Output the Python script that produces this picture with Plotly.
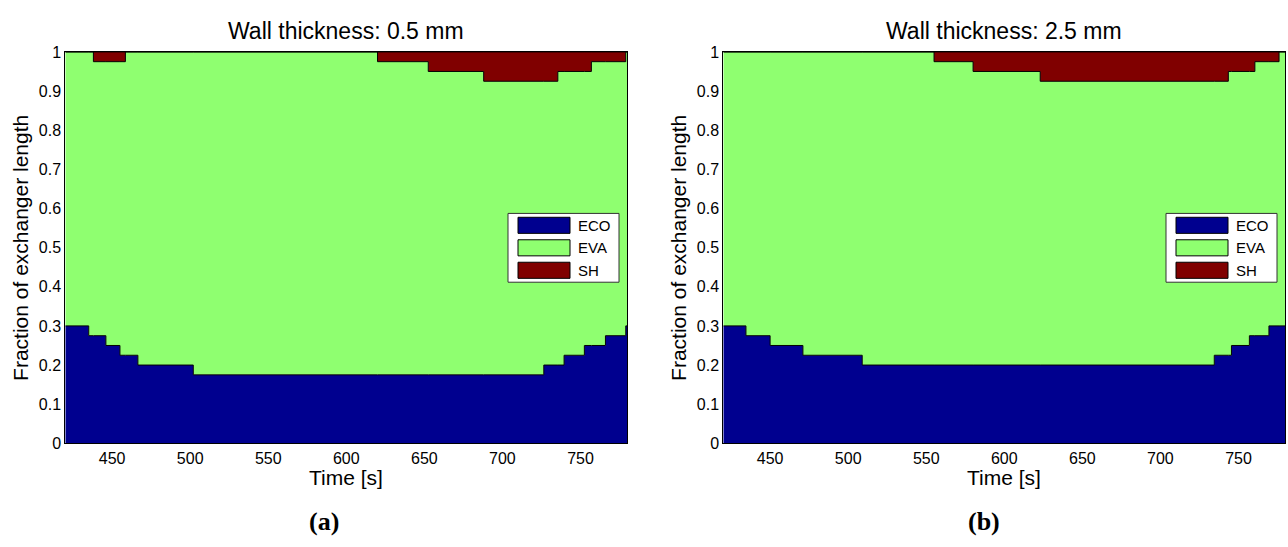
import plotly.graph_objects as go

# ---------------- data ----------------
# Panel (a): wall thickness 0.5 mm  -- step-wise zone fractions
TIME_A = [420, 435, 438, 446, 455, 458.5, 466.5, 502, 620, 652.5, 688,
          726.5, 735.5, 739.5, 752.5, 757, 766, 779, 780]
ECO_A = [0.300, 0.275, 0.275, 0.250, 0.225, 0.225, 0.200, 0.175, 0.175, 0.175, 0.175,
         0.200, 0.200, 0.225, 0.250, 0.250, 0.275, 0.300, 0.300]
SH_A = [0.000, 0.000, 0.025, 0.025, 0.025, 0.000, 0.000, 0.000, 0.025, 0.050, 0.075,
        0.075, 0.050, 0.050, 0.050, 0.025, 0.025, 0.000, 0.000]

# Panel (b): wall thickness 2.5 mm
TIME_B = [420, 434.5, 450, 471, 509, 555, 580, 623, 734.5, 743.5, 745.5,
          757, 760.5, 769.5, 776, 780]
ECO_B = [0.300, 0.275, 0.250, 0.225, 0.200, 0.200, 0.200, 0.200, 0.225, 0.225, 0.250,
         0.275, 0.275, 0.300, 0.300, 0.300]
SH_B = [0.000, 0.000, 0.000, 0.000, 0.000, 0.025, 0.050, 0.075, 0.075, 0.050, 0.050,
        0.050, 0.025, 0.025, 0.000, 0.000]

TITLES = ["Wall thickness: 0.5 mm", "Wall thickness: 2.5 mm"]
PANEL_LABELS = ["(a)", "(b)"]
ZONES = ["ECO", "EVA", "SH"]
X_TICKS = [450, 500, 550, 600, 650, 700, 750]
Y_TICKS = [0, 0.1, 0.2, 0.3, 0.4, 0.5, 0.6, 0.7, 0.8, 0.9, 1]
Y_TICK_LABELS = ["0", "0.1", "0.2", "0.3", "0.4", "0.5", "0.6", "0.7", "0.8", "0.9", "1"]
X_LABEL = "Time [s]"
Y_LABEL = "Fraction of exchanger length"

# ---------------- style ----------------
W, H = 1288, 547
COLORS = {"ECO": "#00008F", "EVA": "#8FFF70", "SH": "#800000"}
FONT = "Liberation Sans, Arial, sans-serif"
SERIF = "Liberation Serif, Times New Roman, serif"

# axes boxes in pixels: (left, right)
PANELS_PX = [(65.3, 627.3), (723.3, 1285.3)]
TOP_PX, BOT_PX = 45.3, 449.3
CAPTION_X = [324, 984]


def px(x):
    return x / W


def py(y):
    return 1 - y / H


fig = go.Figure()

panels = [(TIME_A, ECO_A, SH_A), (TIME_B, ECO_B, SH_B)]
for i, (t, eco, sh) in enumerate(panels):
    eva = [round(1 - e - s, 6) for e, s in zip(eco, sh)]
    xa = "x" if i == 0 else "x2"
    ya = "y" if i == 0 else "y2"
    for name, vals in zip(ZONES, [eco, eva, sh]):
        fig.add_trace(go.Scatter(
            x=t, y=vals, name=name, mode="lines",
            stackgroup=f"stack{i}",
            line=dict(shape="hv", color="black", width=1),
            fillcolor=COLORS[name],
            xaxis=xa, yaxis=ya, showlegend=False, hoverinfo="skip",
        ))

axis_common = dict(showline=True, mirror=True, linecolor="black", linewidth=1,
                   showgrid=False, zeroline=False, ticks="",
                   tickfont=dict(family=FONT, size=16, color="black"))

layout = dict(width=W, height=H, margin=dict(l=0, r=0, t=0, b=0),
              paper_bgcolor="white", plot_bgcolor="white", showlegend=False)
for i, (l, r) in enumerate(PANELS_PX):
    sfx = "" if i == 0 else "2"
    layout["xaxis" + sfx] = dict(domain=[px(l), px(r)], range=[420, 780],
                                 tickvals=X_TICKS, anchor="y" + sfx, **axis_common)
    layout["yaxis" + sfx] = dict(domain=[py(BOT_PX), py(TOP_PX)], range=[0, 1],
                                 tickvals=Y_TICKS, ticktext=Y_TICK_LABELS,
                                 anchor="x" + sfx, **axis_common)
fig.update_layout(**layout)

annotations = []
shapes = []
for i, (l, r) in enumerate(PANELS_PX):
    cx = (l + r) / 2
    cy = (TOP_PX + BOT_PX) / 2
    annotations.append(dict(text=TITLES[i], x=px(cx), y=py(24), xref="paper", yref="paper",
                            showarrow=False, xanchor="center", yanchor="middle",
                            font=dict(family=FONT, size=23, color="black")))
    annotations.append(dict(text=X_LABEL, x=px(cx), y=py(485), xref="paper", yref="paper",
                            showarrow=False, xanchor="center", yanchor="middle",
                            font=dict(family=FONT, size=21, color="black")))
    annotations.append(dict(text=Y_LABEL, x=px(l - 45), y=py(cy), xref="paper", yref="paper",
                            showarrow=False, xanchor="center", yanchor="middle", textangle=-90,
                            font=dict(family=FONT, size=21, color="black")))
    annotations.append(dict(text="<b>" + PANEL_LABELS[i] + "</b>", x=px(CAPTION_X[i]), y=py(530),
                            xref="paper", yref="paper", showarrow=False,
                            xanchor="center", yanchor="middle",
                            font=dict(family=SERIF, size=26, color="black")))
    # legend box
    bx1 = r - 8.3
    bx0 = bx1 - 111
    by0, by1 = 212, 283
    shapes.append(dict(type="rect", xref="paper", yref="paper",
                       x0=px(bx0), x1=px(bx1), y0=py(by1), y1=py(by0),
                       fillcolor="white", line=dict(color="#333333", width=1)))
    for j, name in enumerate(ZONES):
        ry = 224.3 + j * 23.2
        shapes.append(dict(type="rect", xref="paper", yref="paper",
                           x0=px(bx0 + 10), x1=px(bx0 + 62),
                           y0=py(ry + 8.3), y1=py(ry - 8.3),
                           fillcolor=COLORS[name], line=dict(color="black", width=1)))
        annotations.append(dict(text=name, x=px(bx0 + 68), y=py(ry), xref="paper", yref="paper",
                                showarrow=False, xanchor="left", yanchor="middle",
                                font=dict(family=FONT, size=15, color="black")))

fig.update_layout(annotations=annotations, shapes=shapes)

POST = (
    "var gd = document.getElementById('{plot_id}');"
    "document.documentElement.style.margin='0';"
    "document.documentElement.style.padding='0';"
    "document.documentElement.style.overflow='hidden';"
    "document.body.style.margin='0';"
    "document.body.style.padding='0';"
    "document.body.style.overflow='hidden';"
    "gd.style.position='fixed';gd.style.left='0px';gd.style.top='0px';"
)
fig.write_html("out.html", config={"displayModeBar": False}, post_script=POST)
